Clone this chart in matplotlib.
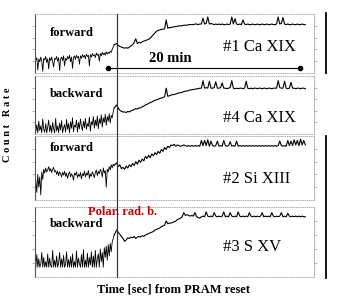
import numpy as np
import matplotlib
matplotlib.use("Agg")
import matplotlib.pyplot as plt
from matplotlib.lines import Line2D

plt.rcParams["font.family"] = ["Liberation Serif", "DejaVu Serif"]

# ---------------------------------------------------------------------------
# Data (relative count rate, 0-100 per panel)
# ---------------------------------------------------------------------------
t_early = np.linspace(5, 495, 80)      # seconds after PRAM reset
t_late = np.linspace(510, 1690, 119)
t_event = 510                          # polar radiation belt entry
arrow_t = [456, 1656]                  # "20 min" marker

ca19_fwd_early = [22, 26, 5, 24, 19, 27, 20, 3, 25, 22,
                  28, 18, 24, 7, 26, 21, 27, 19, 10, 25,
                  23, 28, 20, 26, 4, 24, 27, 21, 29, 12,
                  25, 22, 28, 24, 30, 19, 27, 8, 26, 29,
                  23, 30, 26, 28, 15, 29, 25, 31, 27, 30,
                  24, 32, 28, 30, 12, 31, 27, 33, 29, 31,
                  26, 34, 30, 32, 20, 33, 29, 35, 31, 34,
                  30, 36, 32, 35, 33, 37, 35, 40, 44, 48]
ca19_fwd_late = [50, 47, 45, 44, 43, 42, 43, 42, 44, 46,
                 48, 52, 58, 50, 52, 51, 53, 54, 55, 56,
                 57, 59, 62, 65, 68, 71, 72, 73, 74, 74,
                 75, 90, 76, 77, 77, 78, 78, 79, 79, 80,
                 80, 80, 81, 81, 81, 82, 82, 82, 82, 83,
                 83, 82, 83, 83, 93, 83, 84, 95, 83, 84,
                 83, 82, 83, 82, 83, 82, 83, 82, 82, 83,
                 82, 83, 95, 83, 92, 83, 82, 83, 82, 90,
                 83, 82, 83, 82, 82, 83, 82, 82, 83, 82,
                 82, 83, 82, 82, 83, 82, 82, 83, 82, 82,
                 83, 95, 83, 84, 94, 83, 82, 83, 82, 82,
                 83, 82, 82, 83, 82, 82, 83, 82, 82]

ca19_bwd_early = [4, 16, 2, 22, 6, 14, 2, 26, 8, 3,
                  18, 2, 12, 24, 4, 15, 2, 20, 9, 2,
                  27, 5, 14, 2, 19, 7, 23, 2, 11, 16,
                  3, 25, 8, 18, 2, 21, 10, 28, 4, 15,
                  12, 24, 3, 20, 9, 26, 14, 6, 22, 11,
                  27, 8, 18, 13, 29, 5, 21, 16, 30, 10,
                  24, 14, 31, 9, 26, 18, 33, 12, 28, 20,
                  34, 15, 30, 22, 35, 19, 32, 28, 38, 45]
ca19_bwd_late = [50, 45, 41, 39, 38, 38, 37, 39, 38, 40,
                 41, 42, 44, 43, 45, 45, 47, 48, 50, 51,
                 53, 54, 55, 57, 58, 59, 60, 61, 62, 63,
                 64, 79, 65, 66, 67, 68, 68, 69, 70, 71,
                 71, 72, 73, 74, 74, 75, 76, 76, 77, 77,
                 78, 78, 79, 79, 92, 79, 80, 79, 91, 79,
                 79, 80, 90, 79, 79, 80, 88, 79, 79, 78,
                 79, 80, 92, 79, 78, 79, 78, 79, 79, 78,
                 79, 91, 79, 78, 79, 78, 79, 79, 78, 79,
                 79, 78, 79, 79, 78, 79, 79, 78, 79, 79,
                 79, 92, 80, 79, 79, 91, 79, 78, 79, 89,
                 79, 79, 78, 79, 79, 78, 79, 79, 78]

si13_fwd_early = [30, 12, 40, 20, 36, 8, 44, 32, 48, 42,
                  50, 44, 47, 52, 45, 49, 43, 48, 51, 44,
                  46, 40, 45, 38, 44, 41, 36, 43, 39, 45,
                  37, 42, 34, 40, 44, 36, 41, 38, 31, 42,
                  39, 44, 35, 40, 37, 43, 33, 41, 38, 45,
                  36, 42, 39, 46, 34, 41, 37, 44, 40, 35,
                  43, 47, 38, 45, 41, 48, 44, 36, 50, 42,
                  46, 20, 48, 44, 52, 47, 55, 50, 56, 54]
si13_fwd_late = [58, 52, 55, 49, 51, 48, 53, 50, 55, 52,
                 57, 54, 60, 56, 62, 59, 64, 61, 68, 65,
                 70, 66, 72, 69, 74, 71, 76, 73, 79, 76,
                 82, 79, 84, 82, 86, 85, 87, 84, 86, 85,
                 84, 85, 86, 85, 84, 85, 84, 85, 84, 85,
                 84, 85, 84, 93, 85, 93, 85, 94, 84, 92,
                 85, 84, 85, 92, 84, 85, 84, 93, 85, 84,
                 85, 91, 84, 85, 84, 92, 84, 85, 84, 85,
                 84, 85, 84, 85, 84, 85, 84, 85, 84, 85,
                 84, 85, 84, 85, 84, 85, 84, 85, 84, 85,
                 84, 85, 92, 85, 84, 85, 84, 93, 85, 92,
                 85, 94, 86, 93, 85, 95, 86, 93, 86]

s15_bwd_early = [14, 32, 14, 26, 14, 18, 35, 14, 28, 14,
                 22, 14, 33, 14, 27, 16, 14, 38, 14, 24,
                 14, 30, 14, 20, 35, 14, 26, 14, 31, 14,
                 18, 36, 14, 25, 14, 29, 14, 33, 14, 22,
                 14, 37, 14, 27, 19, 14, 32, 14, 39, 14,
                 24, 14, 34, 14, 28, 17, 36, 14, 30, 14,
                 38, 14, 26, 33, 14, 40, 22, 35, 14, 42,
                 28, 44, 24, 46, 30, 48, 36, 50, 55, 60]
s15_bwd_late = [67, 64, 61, 58, 55, 51, 53, 56, 55, 57,
                56, 58, 55, 57, 58, 57, 59, 58, 60, 61,
                62, 63, 64, 65, 67, 68, 69, 70, 72, 73,
                74, 80, 76, 77, 77, 78, 79, 80, 82, 83,
                84, 86, 92, 88, 89, 88, 87, 88, 87, 92,
                86, 85, 84, 86, 87, 86, 93, 87, 86, 87,
                86, 92, 87, 86, 87, 86, 87, 93, 86, 87,
                86, 92, 87, 86, 87, 86, 93, 87, 86, 87,
                86, 87, 86, 92, 87, 86, 87, 86, 87, 86,
                87, 92, 86, 87, 86, 87, 86, 92, 87, 86,
                87, 86, 87, 92, 86, 87, 86, 91, 87, 86,
                87, 86, 87, 86, 87, 86, 87, 86, 86]

panels = [
    ("forward", "#1 Ca XIX", ca19_fwd_early, ca19_fwd_late),
    ("backward", "#4 Ca XIX", ca19_bwd_early, ca19_bwd_late),
    ("forward", "#2 Si XIII", si13_fwd_early, si13_fwd_late),
    ("backward", "#3 S XV", s15_bwd_early, s15_bwd_late),
]

# ---------------------------------------------------------------------------
# Layout (pixel boxes of the original scan)
# ---------------------------------------------------------------------------
W, H = 337, 300
boxes = [(14, 73), (76, 134), (136, 200), (207, 277)]   # top, bottom in px
left_px, right_px = 35, 314
dir_y = [68, 69, 81, 76]
ion_y = [44, 28, 33, 43]

fig = plt.figure(figsize=(W / 100, H / 100), dpi=100)
axes = []
for i, ((top, bot), (direction, ion, early, late)) in enumerate(zip(boxes, panels)):
    ax = fig.add_axes([left_px / W, 1 - bot / H,
                       (right_px - left_px) / W, (bot - top) / H])
    ax.plot(t_early, early, color="black", lw=0.6)
    ax.plot(np.r_[t_early[-1], t_late], np.r_[early[-1], late],
            color="black", lw=0.8)
    ax.axvline(t_event, color="#333333", lw=0.8)
    ax.set_xlim(0, 1744)
    ax.set_ylim(0, 100)
    ax.set_xticks([])
    ax.set_yticks([20, 40, 60, 80])
    ax.tick_params(axis="y", length=2, width=0.5, color="#999999",
                   labelleft=False, right=True)
    for side in ("top", "bottom", "right"):
        ax.spines[side].set_color("#aaaaaa")
        ax.spines[side].set_linewidth(0.6)
    ax.spines["top"].set_linestyle(":")
    ax.spines["bottom"].set_linestyle(":")
    ax.spines["left"].set_color("#555555")
    ax.spines["left"].set_linewidth(0.8)

    ax.text(94, dir_y[i], direction, fontsize=9, fontweight="bold",
            ha="left", va="center")
    ax.text(1175, ion_y[i], ion, fontsize=12, ha="left", va="center")
    axes.append(ax)

# 20 min marker
ax = axes[0]
ax.plot(arrow_t, [8.5, 8.5], color="black", lw=0.8, marker="o", ms=3)
ax.text(844, 24, "20 min", fontsize=10.5, fontweight="bold",
        ha="center", va="center")

axes[3].text(331, 93, "Polar. rad. b.", fontsize=9, fontweight="bold",
             color="#cc0000", ha="left", va="center")

# event line across the gaps between panels
x_fig = fig.transFigure.inverted().transform(
    axes[0].transData.transform((t_event, 0)))[0]
fig.add_artist(Line2D([x_fig, x_fig], [1 - 14 / H, 1 - 277 / H],
                      color="#333333", lw=0.8))

# thick frame lines at the right
fig.add_artist(Line2D([326 / W] * 2, [1 - 13 / H, 1 - 73 / H],
                      color="black", lw=1.3))
fig.add_artist(Line2D([326 / W] * 2, [1 - 136 / H, 1 - 278 / H],
                      color="black", lw=1.3))

fig.text(8 / W, 1 - 125 / H, "C o u n t   R a t e", rotation=90,
         fontsize=7.5, fontweight="bold", ha="center", va="center")
fig.text(174 / W, 1 - 290 / H, "Time [sec] from PRAM reset", fontsize=9,
         fontweight="bold", ha="center", va="center")

fig.savefig("out.png", dpi=100)
